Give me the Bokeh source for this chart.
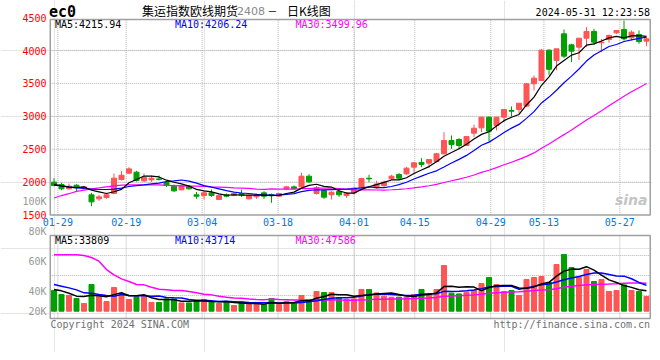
import numpy as np
import pandas as pd
from bokeh.plotting import figure
from bokeh.models import Range1d
from bokeh.core.properties import value
from bokeh.embed import file_html
from bokeh.resources import INLINE

# ---------------- data ----------------
holidays = ["2024-02-09", "2024-02-12", "2024-02-13", "2024-02-14", "2024-02-15",
            "2024-02-16", "2024-04-04", "2024-04-05", "2024-05-01", "2024-05-02", "2024-05-03"]
dates = [d.strftime("%m-%d") for d in pd.bdate_range("2024-01-26", "2024-05-31")
         if d.strftime("%Y-%m-%d") not in holidays]

opens = [2000, 1965, 1899, 1954, 1909, 1808, 1747, 1767, 1828, 2040,
         2137, 2152, 2020, 2035, 2050, 1995, 1939, 1884, 1939, 1808,
         1797, 1838, 1737, 1808, 1797, 1828, 1747, 1777, 1838, 1813,
         1787, 1899, 1929, 1929, 2091, 1828, 1873, 1808, 1858, 1797,
         1838, 1915, 2060, 1915, 1949, 2051, 2116, 2127, 2228, 2300,
         2289, 2314, 2430, 2633, 2648, 2557, 2744, 2825, 2987, 2861,
         2987, 3089, 3104, 3155, 3494, 3544, 4005, 3850, 4253, 4086,
         4051, 4187, 4289, 4117, 4167, 4268, 4319, 4192, 4243, 4142]
highs = [2061, 1990, 1980, 1970, 1944, 1838, 1808, 1838, 2132, 2172,
         2228, 2172, 2132, 2101, 2101, 2020, 1965, 1959, 1959, 1853,
         1863, 1889, 1813, 1828, 1838, 1889, 1808, 1828, 1863, 1828,
         1838, 1939, 1949, 2142, 2121, 1939, 1889, 1863, 1889, 1848,
         1920, 2065, 2112, 2020, 2025, 2111, 2137, 2228, 2304, 2365,
         2355, 2446, 2760, 2709, 2668, 2700, 2876, 2990, 2997, 2990,
         3104, 3150, 3200, 3509, 3620, 4025, 4020, 4025, 4319, 4101,
         4187, 4355, 4329, 4177, 4243, 4304, 4456, 4304, 4304, 4202]
lows = [1939, 1879, 1889, 1858, 1889, 1635, 1716, 1747, 1818, 2025,
        2121, 2010, 2000, 2005, 2025, 1929, 1853, 1878, 1889, 1747,
        1737, 1777, 1727, 1772, 1787, 1777, 1737, 1747, 1747, 1686,
        1777, 1878, 1889, 1919, 1990, 1813, 1747, 1737, 1777, 1762,
        1813, 1905, 2000, 1899, 1929, 2035, 2035, 2111, 2142, 2228,
        2218, 2304, 2420, 2506, 2506, 2550, 2684, 2760, 2623, 2785,
        2911, 2997, 3048, 3140, 3392, 3544, 3630, 3700, 3884, 3823,
        3858, 4051, 4086, 3975, 4117, 4253, 4152, 4152, 4101, 4066]
closes = [1949, 1899, 1939, 1924, 1929, 1701, 1777, 1808, 2061, 2106,
          2202, 2025, 2071, 2061, 2040, 1954, 1868, 1944, 1899, 1787,
          1838, 1797, 1797, 1787, 1828, 1808, 1797, 1797, 1787, 1797,
          1828, 1929, 1904, 2091, 2005, 1914, 1772, 1848, 1808, 1833,
          1910, 2055, 2050, 1972, 2000, 2091, 2061, 2213, 2294, 2270,
          2344, 2431, 2633, 2572, 2557, 2694, 2820, 2987, 2775, 2987,
          3104, 3078, 3200, 3494, 3580, 4005, 3715, 4025, 3914, 3990,
          4187, 4289, 4127, 4127, 4228, 4304, 4177, 4278, 4137, 4177]
volumes = [35000, 28200, 26500, 21500, 13000, 45100, 25400, 16400, 40100, 29200,
           19800, 24200, 25400, 14700, 14700, 20800, 20800, 14000, 14000, 18100,
           19800, 15700, 13000, 15700, 9600, 15700, 11800, 11300, 11300, 21500,
           11300, 16400, 13500, 26500, 19800, 33300, 31600, 31600, 23200, 20000,
           20800, 36700, 36700, 30900, 25400, 23700, 23700, 23700, 28200, 36700,
           29200, 36700, 77200, 30400, 29200, 32100, 35000, 46800, 57000, 45100,
           33300, 35000, 26500, 53600, 57000, 58600, 48500, 78900, 95800, 73900,
           57000, 70500, 50200, 53600, 33300, 35000, 44400, 35000, 33300, 24800]

# moving-average values at the start of the window (they depend on earlier sessions)
ma5_head = [1962, 1944, 1924, 1916]
ma10_head = [1960, 1945, 1929, 1914, 1904, 1895, 1889, 1889, 1895]
ma30_head = [1760, 1797, 1825, 1860, 1880, 1899, 1914, 1930, 1945, 1955,
             1959, 1959, 1959, 1959, 1959, 1952, 1949, 1944, 1939, 1939,
             1935, 1928, 1924, 1920, 1914, 1910, 1905, 1895, 1890]
vma5_head = [36600, 34400, 30400, 25400]
vma10_head = [45100, 42300, 39400, 36000, 31000, 30400, 28200, 26500, 25400]
vma30_head = [95200, 95200, 95200, 95200, 94100, 90700, 84500, 70400, 61400, 54600,
              50100, 45100, 44500, 40600, 37200, 36100, 34900, 34900, 33200, 31000,
              28700, 27600, 25400, 23700, 22500, 22000, 20800, 19700, 19200]

date_ticks = ["01-29", "02-19", "03-04", "03-18", "04-01", "04-15", "04-29", "05-13", "05-27"]
price_ticks = [1500, 2000, 2500, 3000, 3500, 4000, 4500]
price_grid = [2000, 2500, 3000, 3500, 4000]
vol_tick_values = [20000, 40000, 60000, 80000, 100000]
vol_tick_labels = ["20K", "40K", "60K", "80K", "100K"]
price_ma_text = ["MA5:4215.94", "MA10:4206.24", "MA30:3499.96"]
vol_ma_text = ["MA5:33809", "MA10:43714", "MA30:47586"]
title_name = "集运指数欧线期货"
title_code = "2408"
title_dash = "－"
title_tail = "日K线图"
symbol = "ec0"
stamp = "2024-05-31 12:23:58"

# ---------------- layout (picture pixels) ----------------
W, H, OFF = 652, 352, 0
X0, DX = 53.5, 7.5                 # centre of first session, px per session
PY_REF, P_REF, P_PX = 50.0, 4000.0, 32.92 / 500.0
V_BASE, V_PER_PX = 310.7, 1690.0
L_BASE, L_PX = 351.0, 1.5 / 1000.0  # label scale used by the volume axis
GRID_STRETCH = 1.0126

def px2x(px):
    return (px - X0) / DX

def py2p(py):
    return P_REF - (py - PY_REF) / P_PX

def py2v(py):
    return (V_BASE - py) * V_PER_PX

def py2l(py):
    return (L_BASE - py) / L_PX

p = figure(width=W, height=H, toolbar_location=None, output_backend="svg",
           x_range=Range1d(px2x(OFF), px2x(OFF + W)),
           y_range=Range1d(py2p(OFF + H), py2p(OFF)),
           x_axis_location=None, y_axis_location=None, min_border=0,
           outline_line_color=None, title=None)
p.extra_y_ranges = {"vol": Range1d(py2v(OFF + H), py2v(OFF)),
                    "vlab": Range1d(py2l(OFF + H), py2l(OFF))}

n = len(closes)
idx = np.arange(n)
o = np.array(opens, float); c = np.array(closes, float)
up = c >= o
RED, GREEN = "#ff5555", "#00a000"
colors = [RED if u else GREEN for u in up]

def ma(vals, k, head):
    s = pd.Series(vals, dtype=float).rolling(k).mean().to_numpy()
    s[:k - 1] = head
    return s

ma5, ma10, ma30 = ma(closes, 5, ma5_head), ma(closes, 10, ma10_head), ma(closes, 30, ma30_head)
vma5, vma10, vma30 = ma(volumes, 5, vma5_head), ma(volumes, 10, vma10_head), ma(volumes, 30, vma30_head)

left, right = -0.5, n - 0.5
p_top = py2p(19)
v_bot, v_top = py2v(318), py2v(235)
GRID = dict(line_color="#b4b4b4", line_dash="1 1", line_width=1)

# grids
tick_x = [dates.index(d) * GRID_STRETCH - 0.5 for d in date_ticks]
p.segment(x0=[left] * len(price_grid), x1=[right] * len(price_grid), y0=price_grid, y1=price_grid, **GRID)
p.segment(x0=tick_x, x1=tick_x, y0=[1500] * len(tick_x), y1=[p_top] * len(tick_x), **GRID)
vg = [py2v(255), py2v(275), py2v(295)]
p.segment(x0=[left] * 3, x1=[right] * 3, y0=vg, y1=vg, y_range_name="vol", **GRID)
p.segment(x0=tick_x, x1=tick_x, y0=[v_bot] * len(tick_x), y1=[v_top] * len(tick_x), y_range_name="vol", **GRID)

# candles
p.segment(x0=idx, x1=idx, y0=lows, y1=highs, line_color=colors, line_width=1)
p.vbar(x=idx, width=5.0 / DX, top=np.maximum(o, c), bottom=np.minimum(o, c),
       fill_color=colors, line_color=colors, line_width=1)
p.line(idx, ma30, line_color="#ff00ff", line_width=1.2)
p.line(idx, ma10, line_color="#0000ff", line_width=1.2)
p.line(idx, ma5, line_color="#000000", line_width=1.2)

# volume
p.vbar(x=idx, width=5.0 / DX, top=volumes, bottom=0, fill_color=colors, line_color=colors,
       line_width=1, y_range_name="vol")
p.line(idx, vma30, line_color="#ff00ff", line_width=1.5, y_range_name="vol")
p.line(idx, vma10, line_color="#0000ff", line_width=1.5, y_range_name="vol")
p.line(idx, vma5, line_color="#000000", line_width=1.5, y_range_name="vol")

# panel borders
p.quad(left=[left], right=[right], bottom=[1500], top=[p_top], fill_color=None,
       line_color="#a0a0a0", line_width=1.5)
p.quad(left=[left], right=[right], bottom=[v_bot], top=[v_top], fill_color=None,
       line_color="#a0a0a0", line_width=1.5, y_range_name="vol")

MONO = value("DejaVu Sans Mono")

def txt(px, py, s, color, size="10px", font=MONO, align="left", style="normal"):
    p.text(x=[px2x(px)], y=[py2p(py)], text=[s], text_color=color, text_font=font,
           text_font_size=size, text_align=align, text_baseline="middle", text_font_style=style)

# axis labels
p.text(x=[px2x(46)] * len(price_ticks), y=price_ticks, text=[str(t) for t in price_ticks],
       text_color="#ff0000", text_font=MONO, text_font_size="10px",
       text_align="right", text_baseline="middle")
vlab_y = [max(v, py2l(311)) for v in vol_tick_values]
p.text(x=[px2x(46)] * len(vlab_y), y=vlab_y, text=vol_tick_labels, y_range_name="vlab",
       text_color="#999999", text_font=MONO, text_font_size="10px",
       text_align="right", text_baseline="middle")
p.text(x=tick_x, y=[py2p(221)] * len(tick_x), text=date_ticks, text_color="#0078e0",
       text_font=MONO, text_font_size="10px", text_align="center", text_baseline="middle")

# titles
txt(48.5, 11.5, symbol, "#000000", size="15px", style="bold")
txt(141.5, 9.5, title_name, "#000000", size="12px", font=value("Noto Sans CJK SC"))
txt(236.5, 10, title_code, "#888888", size="11px", font=value("DejaVu Sans"))
txt(267, 9.5, title_dash, "#000000", size="10px", font=value("Noto Sans CJK SC"))
txt(286.5, 9.5, title_tail, "#000000", size="12px", font=value("Noto Sans CJK SC"))
txt(649.5, 11.5, stamp, "#000000", align="right")

# MA captions
for s, col, xx in zip(price_ma_text, ["#000000", "#0000ff", "#ff00ff"], [54.5, 174.5, 295]):
    txt(xx, 24, s, col)
for s, col, xx in zip(vol_ma_text, ["#000000", "#0000ff", "#ff00ff"], [54.5, 174.5, 295]):
    txt(xx, 239.5, s, col)

# watermark and footer
txt(647, 199, "sina", "#c4c4c4", size="14px", font=value("DejaVu Sans"), style="bold italic", align="right")
txt(50, 323.5, "Copyright 2024 SINA.COM", "#707070")
txt(649.5, 323.5, "http://finance.sina.com.cn", "#707070", align="right")

open("out.html", "w").write(file_html(p, INLINE))
